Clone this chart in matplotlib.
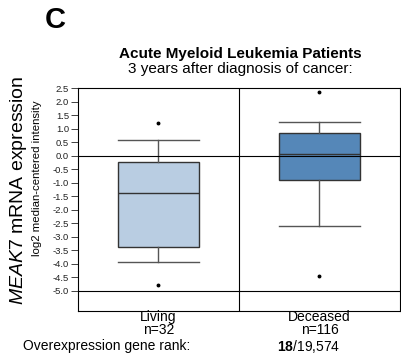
import matplotlib
matplotlib.use("Agg")
import matplotlib.pyplot as plt

# Daten
groups = ["Living", "Deceased"]
counts = [32, 116]
box_colors = ["#b9cde2", "#5587b8"]
whisker_low = [-3.95, -2.62]
q1 = [-3.39, -0.91]
medians = [-1.38, 0.07]
q3 = [-0.22, 0.85]
whisker_high = [0.56, 1.25]
outliers = [[1.20, -4.78], [2.35, -4.47]]
yticks = [2.5, 2.0, 1.5, 1.0, 0.5, 0.0, -0.5, -1.0, -1.5, -2.0, -2.5,
          -3.0, -3.5, -4.0, -4.5, -5.0]

plt.rcParams['font.family'] = ['Liberation Sans', 'DejaVu Sans']
plt.rcParams['mathtext.fontset'] = 'custom'
plt.rcParams['mathtext.rm'] = 'Liberation Sans'
plt.rcParams['mathtext.it'] = 'Liberation Sans:italic'
plt.rcParams['mathtext.bf'] = 'Liberation Sans:bold'

fig = plt.figure(figsize=(4.01, 3.56), dpi=100)
ax = fig.add_axes([0.1945, 0.1264, 0.803, 0.6264])

stats = []
for i, g in enumerate(groups):
    stats.append(dict(label=g, whislo=whisker_low[i], q1=q1[i], med=medians[i],
                      q3=q3[i], whishi=whisker_high[i], fliers=outliers[i]))

bp = ax.bxp(stats, positions=[0, 1], widths=0.5, patch_artist=True,
            boxprops=dict(edgecolor="#333333", linewidth=1.0),
            medianprops=dict(color="#333333", linewidth=1.0),
            whiskerprops=dict(color="#555555", linewidth=1.0),
            capprops=dict(color="#555555", linewidth=1.0),
            capwidths=0.5,
            flierprops=dict(marker='o', markersize=1.8, markerfacecolor="black",
                            markeredgecolor="black"))
for patch, c in zip(bp['boxes'], box_colors):
    patch.set_facecolor(c)

ax.set_xlim(-0.5, 1.5)
ax.set_ylim(-5.75, 2.5)
ax.axhline(0.0, color="black", linewidth=0.8)
ax.axhline(-5.0, color="black", linewidth=0.8)
ax.axvline(0.5, color="black", linewidth=0.8)
for s in ax.spines.values():
    s.set_linewidth(0.8)

ax.set_yticks(yticks)
ax.set_yticklabels([f"{v:.1f}" for v in yticks], fontsize=6.8)
ax.tick_params(axis='y', length=5, width=0.6, pad=1.5, colors="#222222")
ax.set_xticks([])

fig.text(0.092, 0.5, "log2 median-centered intensity", rotation=90,
         fontsize=8.2, ha="center", va="center")
fig.text(0.045, 0.466, r"$\mathit{MEAK7}$ mRNA expression", rotation=90,
         fontsize=14, ha="center", va="center")

fig.text(0.112, 0.945, "C", fontsize=21, fontweight="bold", ha="left", va="center")
fig.text(0.6, 0.849, "Acute Myeloid Leukemia Patients", fontsize=11,
         fontweight="bold", ha="center", va="center")
fig.text(0.6, 0.806, "3 years after diagnosis of cancer:", fontsize=11,
         ha="center", va="center")

for i, g in enumerate(groups):
    ax.text(i, -5.98, g, fontsize=10, ha="center", va="center")
    ax.text(i, -6.44, f"n={counts[i]}", fontsize=10, ha="center", va="center")

fig.text(0.475, 0.028, "Overexpression gene rank:", fontsize=10, ha="right", va="center")
fig.text(0.69, 0.028, r"$\mathbf{18}$/19,574", fontsize=10, ha="left", va="center")

fig.savefig("out.png", dpi=100)
